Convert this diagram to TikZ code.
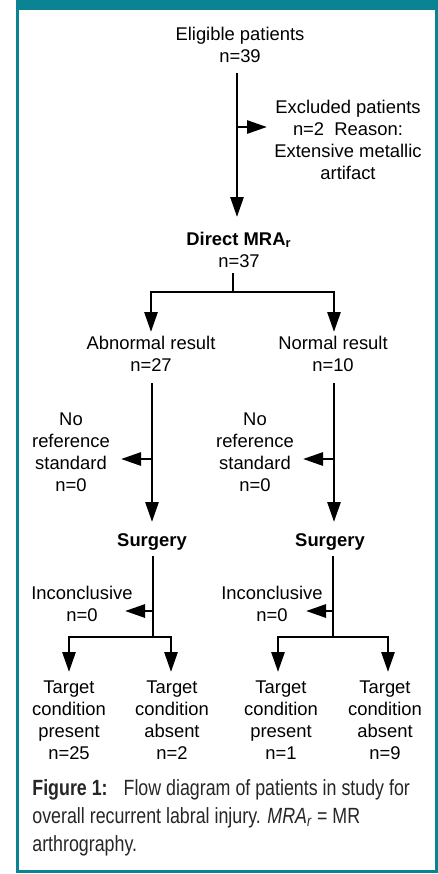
\documentclass[tikz,border=0pt]{standalone}
\usepackage{fontspec}
\setmainfont{Liberation Sans}
\newfontfamily\capfont[FakeStretch=0.81]{Liberation Sans}
\usetikzlibrary{arrows.meta}
\definecolor{frameteal}{HTML}{0A8492}
\tikzset{
  lbl/.style={align=center, inner sep=0pt, font=\fontsize{9.2}{11}\selectfont},
  hdr/.style={lbl, font=\fontsize{9.2}{11}\selectfont\bfseries},
  flow/.style={line width=1.4pt, ->}
}

\begin{document}
\begin{tikzpicture}[x=0.5pt, y=-0.5pt, >={Triangle[length=10pt,width=6.5pt]}]

\useasboundingbox (0,0) rectangle (438,874);

% Frame and header band
\fill[frameteal] (16,0) rectangle (438,10);
\draw[frameteal, line width=1.5pt] (17.5,0) -- (17.5,871.5) -- (436.5,871.5) -- (436.5,0);

% Eligible and excluded
\node[lbl, anchor=north] (elig) at (240,27) {Eligible patients\\n=39};
\node[lbl, anchor=north] (excl) at (348,100) {Excluded patients\\n=2\ \ Reason:\\Extensive metallic\\artifact};
\coordinate (a0) at (237,73);
\coordinate (a1) at (237,217);
\coordinate (x1) at (267,127);
\draw[flow] (a0) -- (a1);
\draw[flow] (a0 |- x1) -- (x1);

% Direct MRA
\node[lbl, anchor=north] (mra) at (239,232) {\textbf{Direct MRA\textsubscript{r}}\\n=37};
\coordinate (m0) at (233,273);
\coordinate (m1) at (233,292);
\coordinate (abtip) at (151,332);
\coordinate (notip) at (334,332);
\draw[line width=1.4pt] (m0) -- (m1);
\draw[flow] (m1) -| (abtip);
\draw[flow] (m1) -| (notip);

% Results
\node[lbl, anchor=north] (abn) at (151,336) {Abnormal result\\n=27};
\node[lbl, anchor=north] (nor) at (333,336) {Normal result\\n=10};

% No reference standard
\node[lbl, anchor=north] (noref1) at (71,412) {No\\reference\\standard\\n=0};
\node[lbl, anchor=north] (noref2) at (255,412) {No\\reference\\standard\\n=0};
\coordinate (b0) at (152,383);
\coordinate (b1) at (152,522);
\coordinate (c0) at (334,383);
\coordinate (c1) at (334,522);
\coordinate (y1) at (121,459);
\coordinate (y2) at (303,459);
\draw[flow] (b0) -- (b1);
\draw[flow] (c0) -- (c1);
\draw[flow] (b0 |- y1) -- (y1);
\draw[flow] (c0 |- y2) -- (y2);

% Surgery
\node[hdr, anchor=north] (surg1) at (152,533) {Surgery};
\node[hdr, anchor=north] (surg2) at (330,533) {Surgery};
\node[lbl, anchor=north] (inc1) at (82,586) {Inconclusive\\n=0};
\node[lbl, anchor=north] (inc2) at (272,586) {Inconclusive\\n=0};
\coordinate (s0) at (153,556);
\coordinate (s1) at (153,637);
\coordinate (t0) at (333,556);
\coordinate (t1) at (333,637);
\coordinate (z1) at (125,611);
\coordinate (z2) at (306,611);
\draw[line width=1.4pt] (s0) -- (s1);
\draw[line width=1.4pt] (t0) -- (t1);
\draw[flow] (s0 |- z1) -- (z1);
\draw[flow] (t0 |- z2) -- (z2);

% Target condition
\coordinate (p1) at (69,672);
\coordinate (p2) at (171,672);
\coordinate (p3) at (278,672);
\coordinate (p4) at (388,672);
\draw[flow] (s1) -| (p1);
\draw[flow] (s1) -| (p2);
\draw[flow] (t1) -| (p3);
\draw[flow] (t1) -| (p4);
\node[lbl, anchor=north] (tc1) at (69,680) {Target\\condition\\present\\n=25};
\node[lbl, anchor=north] (tc2) at (172,680) {Target\\condition\\absent\\n=2};
\node[lbl, anchor=north] (tc3) at (281,680) {Target\\condition\\present\\n=1};
\node[lbl, anchor=north] (tc4) at (385,680) {Target\\condition\\absent\\n=9};

% Caption
\node[anchor=north west, align=left, inner sep=0pt, text=black!85,
      font=\capfont\fontsize{11}{14}\selectfont] (cap) at (32,779)
  {\textbf{Figure 1:}\hspace{8pt}Flow diagram of patients in study for\\
   overall recurrent labral injury. \textit{MRA\textsubscript{r}} = MR\\
   arthrography.};

\end{tikzpicture}
\end{document}
